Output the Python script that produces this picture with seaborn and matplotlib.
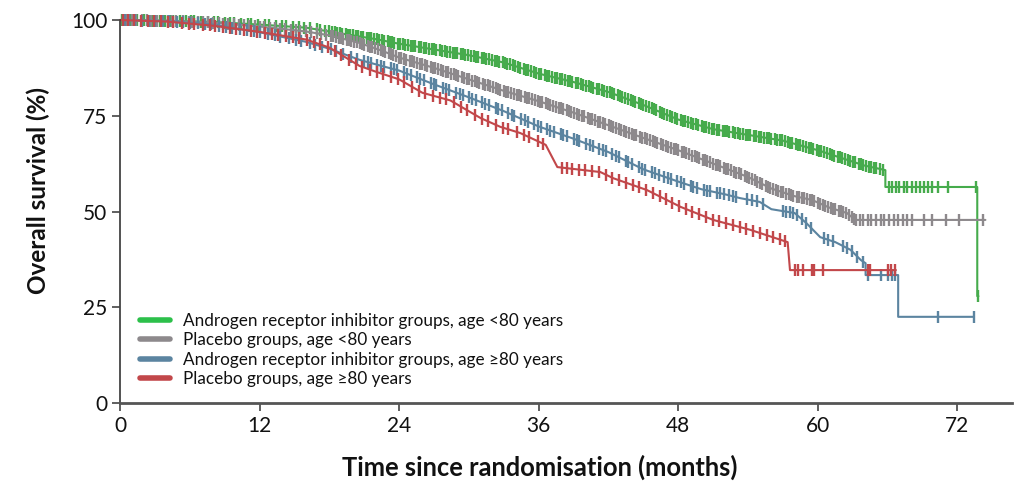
import numpy as np
import pandas as pd
import matplotlib
matplotlib.use("Agg")
import matplotlib.pyplot as plt
from matplotlib.lines import Line2D
import seaborn as sns

# ---------------- data ----------------
labels = [
    "Androgen receptor inhibitor groups, age <80 years",
    "Placebo groups, age <80 years",
    "Androgen receptor inhibitor groups, age \u226580 years",
    "Placebo groups, age \u226580 years",
]
colors = ["#46ab4c", "#8d898c", "#5b84a0", "#c2474a"]
legend_colors = ["#2cc04a", "#8d898c", "#5b84a0", "#c2474a"]

green_t = [0, 4, 8, 12, 16, 19, 22, 24, 27, 30, 33, 36, 39, 42, 45, 48, 51, 54, 57, 60, 62, 64, 65.8, 65.8, 73.7, 73.7, 73.8]
green_s = [100, 99.8, 99.5, 98.8, 98.0, 96.5, 95.0, 93.8, 92.3, 90.8, 88.9, 86.0, 83.8, 81.2, 77.8, 74.0, 71.5, 70.0, 68.5, 66.0, 64.0, 62.0, 60.8, 56.4, 56.4, 27.9, 27.9]
green_c = [0.2, 0.5, 0.9, 1.3, 1.5, 2.1, 2.6, 2.8, 3.4, 3.9, 4.3, 4.6, 5.2, 5.7, 6.1, 6.4, 7.0, 7.6, 8.1, 8.4,
           9.0, 9.5, 9.8, 10.4, 11.0, 11.3, 11.9, 12.5, 12.8, 13.4, 13.9, 14.3, 14.9, 15.4, 15.8, 16.3, 16.9,
           17.2, 17.6,
           18.0, 18.2, 18.5, 18.7, 18.9, 19.1, 19.4, 19.6, 19.8, 20.0, 20.3, 20.5, 20.7, 20.9, 21.2, 21.4,
           21.6, 21.8, 22.1, 22.3, 22.5, 22.7, 23.0, 23.2, 23.4, 23.6, 23.9, 24.1, 24.3, 24.5, 24.8, 25.0,
           25.2, 25.4, 25.7, 25.9, 26.1, 26.3, 26.6, 26.8, 27.0, 27.2, 27.5, 27.7, 27.9, 28.1, 28.4, 28.6,
           28.8, 29.0, 29.3, 29.5, 29.7, 29.9, 30.2, 30.4, 30.6, 30.8, 31.1, 31.3, 31.5, 31.7, 32.0, 32.2,
           32.4, 32.6, 32.9, 33.1, 33.3, 33.5, 33.8, 34.0, 34.2, 34.4, 34.7, 34.9, 35.1, 35.3, 35.6, 35.8,
           36.0, 36.2, 36.5, 36.7, 36.9, 37.1, 37.4, 37.6, 37.8, 38.0, 38.3, 38.5, 38.7, 38.9, 39.2, 39.4,
           39.6, 39.8, 40.1, 40.3, 40.5, 40.7, 41.0, 41.2, 41.4, 41.6, 41.9, 42.1, 42.3, 42.5, 42.8, 43.0,
           43.2, 43.4, 43.7, 43.9, 44.1, 44.3, 44.6, 44.8, 45.0, 45.2, 45.5, 45.7, 45.9, 46.1, 46.4, 46.6,
           46.8, 47.0, 47.3, 47.5, 47.7, 47.9, 48.2, 48.4, 48.6, 48.8, 49.1, 49.3, 49.5, 49.7, 50.0, 50.2,
           50.4, 50.6, 50.9, 51.1, 51.3, 51.5, 51.8, 52.0, 52.2, 52.4, 52.7, 52.9, 53.1, 53.3, 53.6, 53.8,
           54.0, 54.2, 54.5, 54.7, 54.9, 55.1, 55.4, 55.6, 55.8, 56.0, 56.3, 56.5, 56.7, 56.9, 57.2, 57.4,
           57.6, 57.8, 58.1, 58.3, 58.5, 58.7, 59.0, 59.2, 59.4, 59.6, 59.9, 60.1, 60.3, 60.5, 60.8, 61.0,
           61.2, 61.4, 61.7, 61.9, 62.1, 62.3, 62.6, 62.8, 63.0, 63.2, 63.5, 63.7, 63.9, 64.1, 64.4, 64.6,
           64.8, 65.0, 65.3, 65.6,
           66.1, 66.4, 66.7, 67.0, 67.4, 67.7, 68.1, 68.4, 68.8, 69.1, 69.5, 69.8, 70.3, 71.2, 73.6, 73.8]

gray_t = [0, 4, 8, 12, 16, 18, 20.6, 22.5, 24, 27, 30, 33, 36, 39, 42, 45, 48, 51, 54, 56, 58, 59.5, 61, 62.5, 63.2, 74.4]
gray_s = [100, 99.8, 99.3, 98.3, 97.0, 96.0, 94.0, 92.0, 90.2, 87.5, 84.5, 81.5, 78.8, 75.8, 72.5, 69.2, 66.0, 62.5, 59.0, 56.0, 54.0, 53.0, 51.0, 49.6, 47.8, 47.8]
gray_c = [0.3, 0.6, 1.0, 1.4, 1.9, 2.3, 2.7, 3.2, 3.6, 4.1, 4.5, 4.8, 5.4, 5.9, 6.2, 6.7, 7.1, 7.6, 8.0, 8.5,
          8.9, 9.3, 9.8, 10.2, 10.7, 11.1, 11.6, 12.0, 12.4, 12.9, 13.3, 13.8, 14.2, 14.7, 15.1, 15.5, 16.0,
          16.4, 16.9, 17.3, 17.7,
          18.1, 18.3, 18.6, 18.8, 19.0, 19.2, 19.5, 19.7, 19.9, 20.1, 20.4, 20.6, 20.8, 21.0, 21.3, 21.5,
          21.7, 21.9, 22.2, 22.4, 22.6, 22.8, 23.1, 23.3, 23.5, 23.7, 24.0, 24.2, 24.4, 24.6, 24.9, 25.1,
          25.3, 25.5, 25.8, 26.0, 26.2, 26.4, 26.7, 26.9, 27.1, 27.3, 27.6, 27.8, 28.0, 28.2, 28.5, 28.7,
          28.9, 29.1, 29.4, 29.6, 29.8, 30.0, 30.3, 30.5, 30.7, 30.9, 31.2, 31.4, 31.6, 31.8, 32.1, 32.3,
          32.5, 32.7, 33.0, 33.2, 33.4, 33.6, 33.9, 34.1, 34.3, 34.5, 34.8, 35.0, 35.2, 35.4, 35.7, 35.9,
          36.1, 36.3, 36.6, 36.8, 37.0, 37.2, 37.5, 37.7, 37.9, 38.1, 38.4, 38.6, 38.8, 39.0, 39.3, 39.5,
          39.7, 39.9, 40.2, 40.4, 40.6, 40.8, 41.1, 41.3, 41.5, 41.7, 42.0, 42.2, 42.4, 42.6, 42.9, 43.1,
          43.3, 43.5, 43.8, 44.0, 44.2, 44.4, 44.7, 44.9, 45.1, 45.3, 45.6, 45.8, 46.0, 46.2, 46.5, 46.7,
          46.9, 47.1, 47.4, 47.6, 47.8, 48.0, 48.3, 48.5, 48.7, 48.9, 49.2, 49.4, 49.6, 49.8, 50.1, 50.3,
          50.5, 50.7, 51.0, 51.2, 51.4, 51.6, 51.9, 52.1, 52.3, 52.5, 52.8, 53.0, 53.2, 53.4, 53.7, 53.9,
          54.1, 54.3, 54.6, 54.8, 55.0, 55.2, 55.5, 55.7, 55.9, 56.1, 56.4, 56.6, 56.8, 57.0, 57.3, 57.5,
          57.7, 57.9, 58.2, 58.4, 58.6, 58.8, 59.1, 59.3, 59.5, 59.7, 60.0, 60.2, 60.4, 60.6, 60.9, 61.1,
          61.3, 61.5, 61.8, 62.0, 62.2, 62.4, 62.7, 62.9, 63.1, 63.3, 63.6,
          63.9, 64.3, 64.6, 65.0, 65.4, 65.7, 66.1, 66.5, 66.9, 67.3, 67.7, 68.1, 69.1, 69.8, 71.0, 72.1, 74.2]

blue_t = [0, 4, 8, 12, 16, 18, 20.6, 22.5, 24, 27, 30, 33, 36, 39, 42, 45, 48, 50, 52, 53.3, 55, 56, 58, 59, 60.2, 61.5, 62.8, 63.7, 64.1, 64.1, 66.9, 66.9, 73.4]
blue_s = [100, 99.7, 98.8, 96.8, 94.3, 92.5, 89.6, 88.0, 86.8, 83.2, 79.8, 76.2, 72.2, 69.0, 65.5, 61.0, 57.8, 55.8, 54.5, 53.5, 52.5, 50.6, 49.6, 47.0, 43.3, 42.0, 40.0, 37.3, 36.5, 33.4, 33.4, 22.5, 22.5]
blue_c = [0.4, 0.8, 1.3, 1.9, 2.5, 3.0, 3.7, 4.2, 4.9, 5.4, 6.0, 6.7, 7.3, 7.8, 8.5, 9.1, 9.6, 10.3, 10.9,
          11.5, 12.0, 12.7, 13.3, 13.8, 14.5, 15.1, 15.6, 16.3, 16.8, 17.4, 18.1, 18.6, 19.2, 19.9, 20.4,
          21.0, 21.3, 21.6, 22.1, 22.4, 22.7, 23.3, 23.6, 23.8, 24.4, 24.7, 25.0, 25.5, 25.8, 26.1, 26.7,
          27.0, 27.2, 27.8, 28.0, 28.3, 28.9, 29.2, 29.5, 30.0, 30.3, 30.6, 31.1, 31.4, 31.7, 32.3, 32.5,
          32.8, 33.4, 33.7, 33.9, 34.5, 34.8, 35.1, 35.6, 35.9, 36.2, 36.7, 37.0, 37.3, 37.9, 38.1, 38.4,
          39.0, 39.3, 39.5, 40.1, 40.4, 40.7, 41.2, 41.5, 41.8, 42.3, 42.6, 42.9, 43.5, 43.7, 44.0, 44.6,
          44.9, 45.1, 45.7, 46.0, 46.3, 46.8, 47.1, 47.4, 47.9, 48.2, 48.5, 49.1, 49.3, 49.6, 50.2, 50.5,
          50.7, 51.3, 51.6, 51.9, 52.4, 52.7, 53.0, 53.9, 54.3, 54.8, 55.3, 57.0, 57.3, 57.6, 57.9, 58.2,
          58.6, 59.0, 59.4, 60.5, 60.9, 61.3, 62.2, 62.5, 62.9, 63.4, 63.9, 64.3, 65.4, 66.0, 66.4, 66.6,
          70.3, 73.4]

red_t = [0, 4, 8, 12, 16, 18, 20.6, 22, 24, 26, 28.4, 31, 32.7, 34.4, 36.6, 37.6, 41.3, 42.4, 45.3, 48.2, 51, 54.2, 57.4, 57.6, 66.7]
red_s = [100, 99.6, 98.5, 96.9, 94.9, 92.8, 88.0, 86.5, 84.5, 81.0, 79.0, 74.4, 72.1, 70.5, 67.4, 61.6, 60.3, 58.7, 55.6, 51.2, 47.8, 45.2, 42.0, 34.7, 34.7]
red_c = [0.3, 0.7, 1.2, 1.8, 2.4, 2.9, 3.5, 4.1, 4.6, 5.3, 5.9, 6.4, 7.1, 7.7, 8.2, 8.9, 9.5, 10.0, 10.7,
         11.3, 11.8, 12.5, 13.1, 13.6, 14.3, 14.9, 15.4, 16.1, 16.7, 17.2, 17.9, 18.5, 19.0, 19.7, 20.3,
         20.8, 21.5, 22.1, 22.6, 23.3, 23.9, 24.4, 25.1, 25.7, 26.2, 26.9, 27.5, 28.0, 28.7, 29.3, 29.8,
         30.5, 31.1, 31.6, 32.3, 32.9, 33.4, 34.1, 34.7, 35.2, 35.9, 36.4, 38.0, 38.4, 38.9, 39.5, 40.0,
         40.6, 41.2, 41.8, 42.3, 42.9, 43.5, 44.1, 44.6, 45.2, 45.8, 46.4, 46.9, 47.5, 48.1, 48.7, 49.2,
         49.8, 50.4, 51.0, 51.5, 52.1, 52.7, 53.3, 53.8, 54.4, 55.0, 55.6, 56.1, 56.7, 57.2, 58.0, 58.3,
         58.7, 59.5, 59.7, 60.4, 64.3, 64.5, 66.0, 66.3, 66.6]

curves = [(green_t, green_s, green_c), (gray_t, gray_s, gray_c),
          (blue_t, blue_s, blue_c), (red_t, red_s, red_c)]

x_ticks = [0, 12, 24, 36, 48, 60, 72]
y_ticks = [0, 25, 50, 75, 100]

# ---------------- plotting ----------------
sns.set_theme(style="ticks")
plt.rcParams["font.family"] = ["Lato", "DejaVu Sans"]

fig = plt.figure(figsize=(10.15, 4.82), dpi=100)
ax = fig.add_axes([0.1182, 0.1639, 0.879, 0.7946])

for (t, s, c), col in zip(curves, colors):
    df = pd.DataFrame({"t": t, "s": s})
    sns.lineplot(data=df, x="t", y="s", ax=ax, color=col, linewidth=1.5,
                 estimator=None, sort=False, legend=False, clip_on=False)
    cy = np.interp(c, t, s)
    ax.plot(c, cy, linestyle="none", marker="|", markersize=8,
            markeredgewidth=1.7, color=col, clip_on=False)

ax.set_xlim(0, 76.7)
ax.set_ylim(0, 100)
ax.set_xticks(x_ticks)
ax.set_yticks(y_ticks)
ax.tick_params(axis="both", labelsize=15, length=6, width=1.2, color="#444444",
               labelcolor="#111111", pad=3)
for side in ["top", "right"]:
    ax.spines[side].set_visible(False)
ax.spines["left"].set_color("#444444")
ax.spines["left"].set_linewidth(1.3)
ax.spines["bottom"].set_color("#555555")
ax.spines["bottom"].set_linewidth(2.0)

ax.set_xlabel("Time since randomisation (months)", fontsize=18.4, fontweight="bold",
              color="#111111")
ax.set_ylabel("Overall survival (%)", fontsize=17.5, fontweight="bold",
              color="#111111")
ax.xaxis.set_label_coords((540 - 120) / 892, (403 - 455) / 383)
ax.yaxis.set_label_coords((50 - 120) / 892, (403 - 190) / 383)

handles = [Line2D([0], [0], color=c, linewidth=4) for c in legend_colors]
leg = ax.legend(handles, labels, loc="upper left", bbox_to_anchor=(0.0224, 0.235),
                frameon=False, fontsize=12.3, handlelength=1.75, handletextpad=0.75,
                labelspacing=0.2, borderpad=0, borderaxespad=0)
for txt in leg.get_texts():
    txt.set_color("#111111")

fig.savefig("out.png", dpi=100)
